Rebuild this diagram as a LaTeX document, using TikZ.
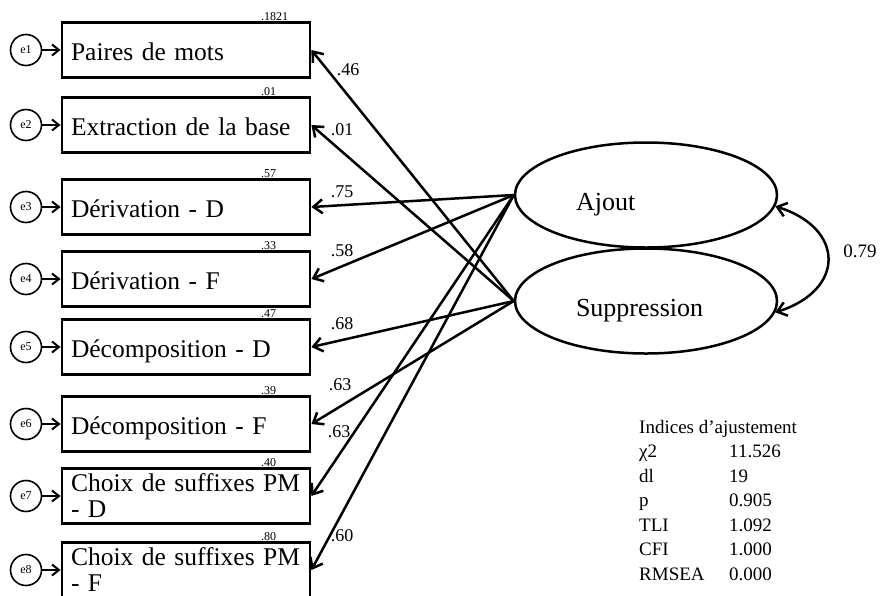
\documentclass[tikz,border=0pt]{standalone}
\usepackage{fontspec}
\setmainfont{Liberation Serif}
\usetikzlibrary{arrows.meta,shapes.geometric}

\begin{document}
\begin{tikzpicture}
	[x=1pt,y=-1pt,
	>={Straight Barb[length=9pt,width=14pt]},
	obs/.style={draw,line width=2.8pt,minimum width=248pt,minimum height=55pt,text width=230pt,inner xsep=9pt,inner ysep=2pt,align=left,font=\fontsize{25.5}{26}\selectfont},
	oneline/.style={text height=22pt,text depth=2pt},
	twoline/.style={},
	err/.style={draw,circle,line width=1.6pt,minimum size=31pt,inner sep=0pt,font=\fontsize{12}{12}\selectfont},
	errarr/.style={-{Straight Barb[length=7pt,width=11pt]},line width=2pt},
	lat/.style={draw,ellipse,line width=2.5pt,minimum width=262pt,minimum height=105pt,inner sep=0pt,text width=140pt,align=left,text height=30pt,text depth=0pt,font=\fontsize{26}{26}\selectfont},
	load/.style={->,line width=2.5pt},
	coef/.style={inner sep=0pt,font=\fontsize{18}{18}\selectfont},
	rsq/.style={anchor=base west,inner sep=0pt,font=\fontsize{12}{12}\selectfont}]
	\useasboundingbox (0,0) rectangle (880,595);

	\foreach \n/\y/\s/\t/\v in {1/50/oneline/Paires de mots/.1821,
		2/125/oneline/Extraction de la base/.01,
		3/207/oneline/Dérivation - D/.57,
		4/279/oneline/Dérivation - F/.33,
		5/347/oneline/Décomposition - D/.47,
		6/424/oneline/Décomposition - F/.39,
		7/496/twoline/{Choix de suffixes PM\\- D}/.40,
		8/570/twoline/{Choix de suffixes PM\\- F}/.80}{
		\node[err] (e\n) at (26,\y) {e\n};
		\node[obs,\s] (b\n) at (186,\y) {\t};
		\node[rsq] (r\n) at (261,\y-30) {\v};
		\draw[errarr] (e\n) -- (b\n);
	}

	\node[lat] (aj) at (646,195) {Ajout};
	\node[lat] (sup) at (646,301) {Suppression};

	\foreach \src/\dst in {sup/1,sup/2,aj/3,aj/4,sup/5,sup/6,aj/7,aj/8}
		\draw[load] (\src.west) -- (b\dst.east);

	\foreach \n/\x/\y/\c in {1/348/70/.46,2/342/130/.01,3/342/192/.75,4/342/251/.58,
		5/342/324/.68,6/340/385/.63,7/339/432/.63,8/342/536/.60}
		\node[coef] (c\n) at (\x,\y) {\c};

	\draw[load,<->] (aj.-5.5) .. controls +(70,22) and +(70,-22) .. (sup.-5.5);
	\node[font=\fontsize{19}{19}\selectfont] (r) at (860,251) {0.79};

	\node[anchor=base west,inner sep=0pt,font=\fontsize{19}{24.5}\selectfont] (fit) at (639,433) {%
		\begin{tabular}[t]{@{}p{90pt}@{}l@{}}
			\multicolumn{2}{@{}l@{}}{Indices d’ajustement}\\
			χ2 & 11.526\\
			dl & 19\\
			p & 0.905\\
			TLI & 1.092\\
			CFI & 1.000\\
			RMSEA & 0.000
		\end{tabular}};

\end{tikzpicture}
\end{document}
